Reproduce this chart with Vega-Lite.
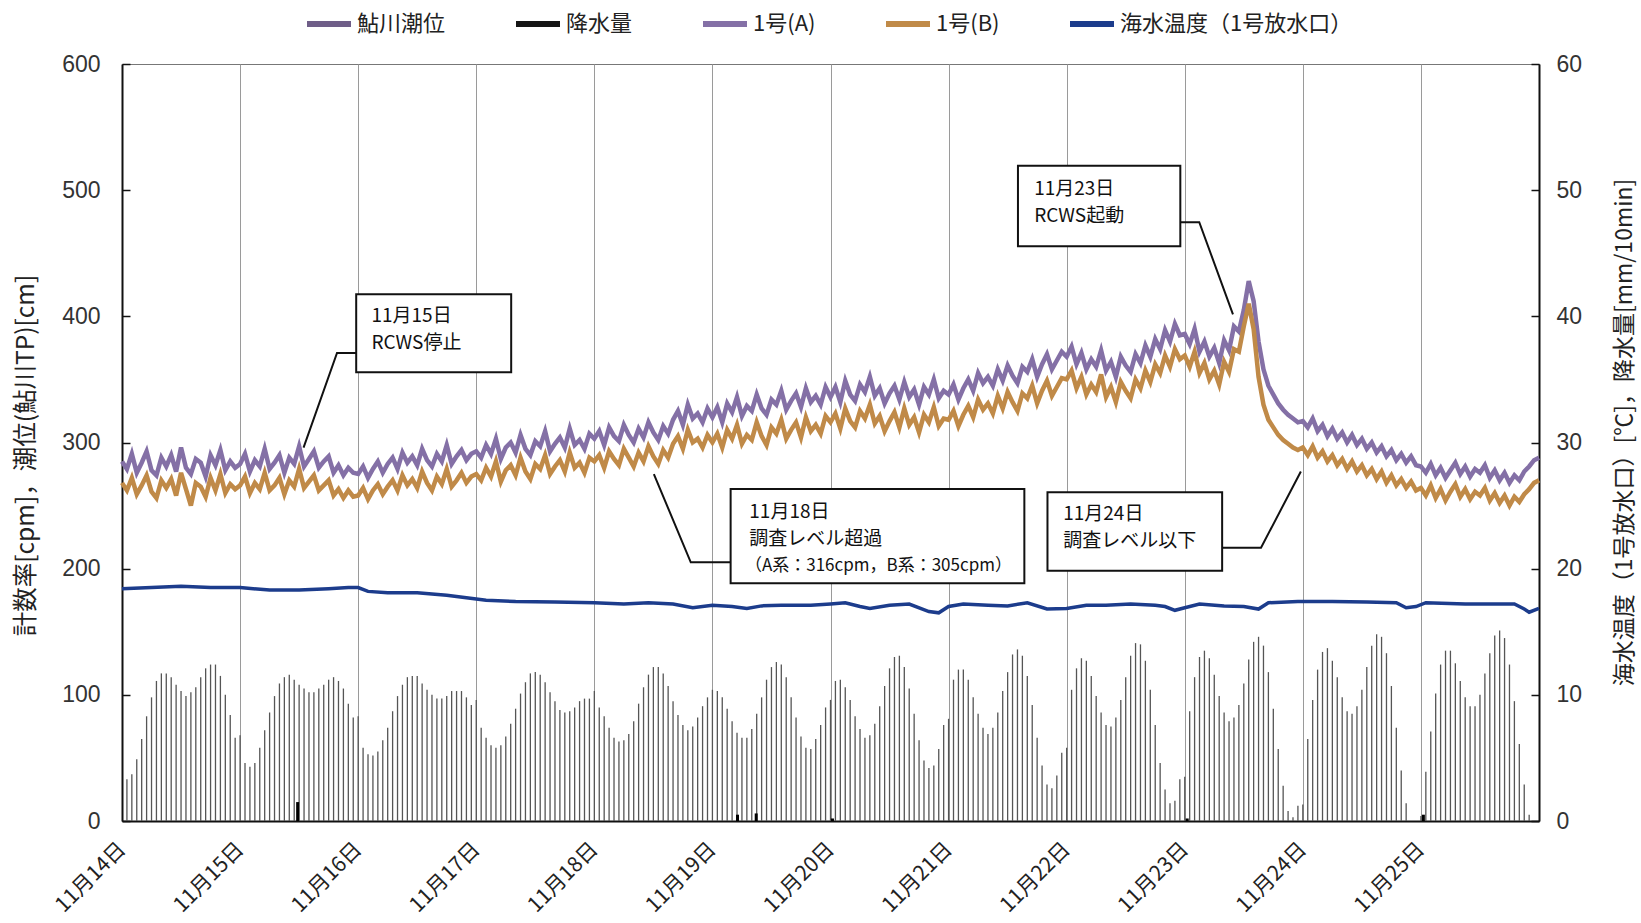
{
  "$schema": "https://vega.github.io/schema/vega-lite/v6.json",
  "width": 1417,
  "height": 757,
  "autosize": {"type": "none"},
  "padding": {"left": 122, "top": 64, "right": 102, "bottom": 102},
  "background": "white",
  "config": {
    "font": "Noto Sans CJK JP",
    "view": {"stroke": "#777", "strokeWidth": 1},
    "axis": {"domainColor": "#111", "domainWidth": 2, "labelColor": "#333", "titleColor": "#222", "titleFontWeight": "normal", "grid": false}
  },
  "datasets": {
    "hourly": [
      {"h":0,"A":285,"B":268},{"h":1,"T":33,"A":279,"B":262},{"h":2,"T":37,"A":291,"B":272},{"h":3,"T":49,"A":276,"B":259},{"h":4,"T":65,"A":284,"B":266},{"h":5,"T":83,"A":293,"B":274},{"h":6,"T":98,"A":278,"B":261},{"h":7,"T":111,"A":274,"B":256},{"h":8,"T":117,"A":288,"B":270},{"h":9,"T":117,"A":281,"B":264},{"h":10,"T":114,"A":290,"B":271},{"h":11,"T":108,"A":277,"B":258},{"h":12,"T":103,"A":296,"B":276},{"h":13,"T":99,"A":280,"B":263},{"h":14,"T":102,"A":275,"B":250},{"h":15,"T":106,"A":287,"B":268},{"h":16,"T":114,"A":284,"B":265},{"h":17,"T":121,"A":273,"B":257},{"h":18,"T":124,"A":290,"B":272},{"h":19,"T":124,"A":282,"B":262},{"h":20,"T":115,"A":294,"B":275},{"h":21,"T":100,"A":278,"B":260},{"h":22,"T":84,"A":285,"B":267},{"h":23,"T":66,"A":280,"B":263},
      {"h":24,"T":68,"A":283,"B":266},{"h":25,"T":46,"A":291,"B":273},{"h":26,"T":43,"A":277,"B":260},{"h":27,"T":46,"A":286,"B":268},{"h":28,"T":58,"A":281,"B":263},{"h":29,"T":72,"A":295,"B":276},{"h":30,"T":86,"A":279,"B":262},{"h":31,"T":99,"A":284,"B":266},{"h":32,"T":109,"A":290,"B":272},{"h":33,"T":114,"A":276,"B":259},{"h":34,"T":116,"A":288,"B":270},{"h":35,"T":112,"A":283,"B":265},{"h":36,"T":108,"A":297,"B":279},{"h":37,"T":105,"A":281,"B":264},{"h":38,"T":102,"A":287,"B":269},{"h":39,"T":102,"A":293,"B":274},{"h":40,"T":105,"A":280,"B":262},{"h":41,"T":108,"A":285,"B":266},{"h":42,"T":112,"A":289,"B":270},{"h":43,"T":114,"A":276,"B":258},{"h":44,"T":111,"A":282,"B":263},{"h":45,"T":105,"A":274,"B":256},{"h":46,"T":93,"A":280,"B":262},{"h":47,"T":82,"A":276,"B":257},
      {"h":48,"T":83,"A":275,"B":258},{"h":49,"T":58,"A":281,"B":264},{"h":50,"T":53,"A":272,"B":255},{"h":51,"T":52,"A":279,"B":262},{"h":52,"T":55,"A":285,"B":267},{"h":53,"T":64,"A":276,"B":259},{"h":54,"T":74,"A":283,"B":265},{"h":55,"T":87,"A":288,"B":270},{"h":56,"T":99,"A":279,"B":262},{"h":57,"T":108,"A":292,"B":274},{"h":58,"T":114,"A":284,"B":266},{"h":59,"T":115,"A":289,"B":271},{"h":60,"T":115,"A":282,"B":264},{"h":61,"T":109,"A":295,"B":277},{"h":62,"T":104,"A":286,"B":268},{"h":63,"T":100,"A":281,"B":262},{"h":64,"T":97,"A":291,"B":273},{"h":65,"T":97,"A":285,"B":267},{"h":66,"T":99,"A":298,"B":279},{"h":67,"T":103,"A":283,"B":265},{"h":68,"T":103,"A":289,"B":270},{"h":69,"T":103,"A":294,"B":276},{"h":70,"T":98,"A":286,"B":268},{"h":71,"T":92,"A":291,"B":273},
      {"h":72,"T":96,"A":293,"B":275},{"h":73,"T":74,"A":288,"B":270},{"h":74,"T":66,"A":298,"B":280},{"h":75,"T":60,"A":291,"B":273},{"h":76,"T":58,"A":303,"B":285},{"h":77,"T":60,"A":287,"B":269},{"h":78,"T":67,"A":296,"B":278},{"h":79,"T":77,"A":300,"B":282},{"h":80,"T":89,"A":292,"B":274},{"h":81,"T":101,"A":306,"B":288},{"h":82,"T":110,"A":295,"B":277},{"h":83,"T":117,"A":290,"B":271},{"h":84,"T":118,"A":301,"B":283},{"h":85,"T":116,"A":297,"B":279},{"h":86,"T":110,"A":309,"B":290},{"h":87,"T":102,"A":293,"B":275},{"h":88,"T":95,"A":299,"B":281},{"h":89,"T":88,"A":304,"B":286},{"h":90,"T":86,"A":296,"B":277},{"h":91,"T":87,"A":311,"B":292},{"h":92,"T":90,"A":298,"B":280},{"h":93,"T":95,"A":302,"B":284},{"h":94,"T":97,"A":295,"B":276},{"h":95,"T":97,"A":307,"B":288},
      {"h":96,"T":103,"A":303,"B":285},{"h":97,"T":90,"A":309,"B":290},{"h":98,"T":83,"A":298,"B":280},{"h":99,"T":74,"A":312,"B":293},{"h":100,"T":66,"A":305,"B":287},{"h":101,"T":63,"A":301,"B":282},{"h":102,"T":64,"A":314,"B":295},{"h":103,"T":69,"A":306,"B":288},{"h":104,"T":79,"A":300,"B":281},{"h":105,"T":93,"A":311,"B":292},{"h":106,"T":106,"A":304,"B":285},{"h":107,"T":116,"A":316,"B":297},{"h":108,"T":122,"A":308,"B":289},{"h":109,"T":122,"A":302,"B":283},{"h":110,"T":117,"A":313,"B":294},{"h":111,"T":107,"A":307,"B":288},{"h":112,"T":95,"A":318,"B":299},{"h":113,"T":84,"A":325,"B":305},{"h":114,"T":76,"A":314,"B":295},{"h":115,"T":72,"A":330,"B":310},{"h":116,"T":75,"A":319,"B":300},{"h":117,"T":82,"A":323,"B":303},{"h":118,"T":91,"A":316,"B":296},{"h":119,"T":98,"A":327,"B":306},
      {"h":120,"T":104,"A":320,"B":300},{"h":121,"T":103,"A":328,"B":307},{"h":122,"T":98,"A":316,"B":296},{"h":123,"T":89,"A":331,"B":310},{"h":124,"T":79,"A":324,"B":303},{"h":125,"T":70,"A":336,"B":314},{"h":126,"T":66,"A":321,"B":299},{"h":127,"T":66,"A":329,"B":306},{"h":128,"T":73,"A":325,"B":302},{"h":129,"T":85,"A":338,"B":316},{"h":130,"T":98,"A":327,"B":305},{"h":131,"T":112,"A":322,"B":298},{"h":132,"T":122,"A":334,"B":312},{"h":133,"T":126,"A":330,"B":307},{"h":134,"T":124,"A":341,"B":318},{"h":135,"T":114,"A":326,"B":303},{"h":136,"T":98,"A":333,"B":310},{"h":137,"T":82,"A":339,"B":316},{"h":138,"T":67,"A":328,"B":304},{"h":139,"T":58,"A":343,"B":320},{"h":140,"T":57,"A":332,"B":309},{"h":141,"T":65,"A":337,"B":314},{"h":142,"T":76,"A":330,"B":307},{"h":143,"T":90,"A":344,"B":321},
      {"h":144,"T":96,"A":336,"B":316},{"h":145,"T":111,"A":344,"B":323},{"h":146,"T":112,"A":332,"B":311},{"h":147,"T":106,"A":349,"B":327},{"h":148,"T":96,"A":338,"B":317},{"h":149,"T":83,"A":333,"B":312},{"h":150,"T":73,"A":346,"B":325},{"h":151,"T":66,"A":340,"B":319},{"h":152,"T":68,"A":352,"B":330},{"h":153,"T":77,"A":337,"B":315},{"h":154,"T":91,"A":343,"B":321},{"h":155,"T":107,"A":331,"B":309},{"h":156,"T":121,"A":339,"B":317},{"h":157,"T":130,"A":345,"B":324},{"h":158,"T":131,"A":334,"B":312},{"h":159,"T":122,"A":348,"B":327},{"h":160,"T":105,"A":336,"B":314},{"h":161,"T":85,"A":342,"B":320},{"h":162,"T":64,"A":330,"B":308},{"h":163,"T":48,"A":344,"B":322},{"h":164,"T":42,"A":338,"B":316},{"h":165,"T":44,"A":350,"B":328},{"h":166,"T":57,"A":335,"B":313},{"h":167,"T":76,"A":341,"B":319},
      {"h":168,"T":81,"A":338,"B":318},{"h":169,"T":112,"A":346,"B":325},{"h":170,"T":120,"A":334,"B":313},{"h":171,"T":120,"A":343,"B":322},{"h":172,"T":112,"A":350,"B":329},{"h":173,"T":98,"A":341,"B":320},{"h":174,"T":85,"A":355,"B":334},{"h":175,"T":74,"A":347,"B":326},{"h":176,"T":69,"A":352,"B":331},{"h":177,"T":74,"A":345,"B":323},{"h":178,"T":86,"A":358,"B":337},{"h":179,"T":103,"A":349,"B":327},{"h":180,"T":118,"A":361,"B":340},{"h":181,"T":132,"A":353,"B":332},{"h":182,"T":136,"A":347,"B":325},{"h":183,"T":131,"A":360,"B":339},{"h":184,"T":115,"A":356,"B":335},{"h":185,"T":92,"A":366,"B":345},{"h":186,"T":66,"A":352,"B":331},{"h":187,"T":44,"A":362,"B":341},{"h":188,"T":29,"A":370,"B":349},{"h":189,"T":26,"A":358,"B":337},{"h":190,"T":36,"A":365,"B":344},{"h":191,"T":54,"A":372,"B":351},
      {"h":192,"T":58,"A":368,"B":350},{"h":193,"T":104,"A":376,"B":357},{"h":194,"T":121,"A":362,"B":343},{"h":195,"T":129,"A":371,"B":352},{"h":196,"T":127,"A":358,"B":338},{"h":197,"T":115,"A":366,"B":346},{"h":198,"T":99,"A":360,"B":340},{"h":199,"T":86,"A":373,"B":354},{"h":200,"T":76,"A":357,"B":336},{"h":201,"T":75,"A":364,"B":344},{"h":202,"T":82,"A":352,"B":332},{"h":203,"T":96,"A":368,"B":348},{"h":204,"T":114,"A":361,"B":341},{"h":205,"T":131,"A":356,"B":335},{"h":206,"T":141,"A":370,"B":350},{"h":207,"T":140,"A":363,"B":343},{"h":208,"T":127,"A":377,"B":357},{"h":209,"T":104,"A":368,"B":348},{"h":210,"T":76,"A":382,"B":362},{"h":211,"T":46,"A":374,"B":355},{"h":212,"T":25,"A":389,"B":369},{"h":213,"T":14,"A":380,"B":360},{"h":214,"T":16,"A":394,"B":374},{"h":215,"T":33,"A":385,"B":366},
      {"h":216,"T":35,"A":386,"B":369},{"h":217,"T":87,"A":378,"B":360},{"h":218,"T":114,"A":390,"B":372},{"h":219,"T":130,"A":372,"B":355},{"h":220,"T":135,"A":380,"B":363},{"h":221,"T":129,"A":368,"B":350},{"h":222,"T":116,"A":375,"B":357},{"h":223,"T":99,"A":363,"B":346},{"h":224,"T":86,"A":381,"B":364},{"h":225,"T":79,"A":373,"B":356},{"h":226,"T":82,"A":392,"B":374},{"h":227,"T":92,"A":388,"B":372},{"h":228,"T":109,"A":405,"B":392},{"h":229,"T":128,"A":428,"B":410},{"h":230,"T":142,"A":412,"B":390},{"h":231,"T":146,"A":380,"B":352},{"h":232,"T":139,"A":358,"B":330},{"h":233,"T":118,"A":345,"B":318},{"h":234,"T":89,"A":338,"B":312},{"h":235,"T":57,"A":331,"B":306},{"h":236,"T":28,"A":326,"B":302},{"h":237,"T":8,"A":322,"B":299},{"h":238,"T":3,"A":319,"B":296},{"h":239,"T":12,"A":316,"B":294},
      {"h":240,"T":13,"A":317,"B":296},{"h":241,"T":65,"A":312,"B":290},{"h":242,"T":96,"A":319,"B":297},{"h":243,"T":120,"A":309,"B":288},{"h":244,"T":134,"A":314,"B":293},{"h":245,"T":137,"A":305,"B":285},{"h":246,"T":127,"A":311,"B":290},{"h":247,"T":114,"A":303,"B":282},{"h":248,"T":98,"A":308,"B":287},{"h":249,"T":87,"A":300,"B":279},{"h":250,"T":85,"A":306,"B":285},{"h":251,"T":91,"A":298,"B":277},{"h":252,"T":104,"A":303,"B":282},{"h":253,"T":122,"A":295,"B":274},{"h":254,"T":139,"A":300,"B":279},{"h":255,"T":148,"A":292,"B":271},{"h":256,"T":146,"A":297,"B":277},{"h":257,"T":133,"A":289,"B":268},{"h":258,"T":107,"A":294,"B":274},{"h":259,"T":74,"A":286,"B":266},{"h":260,"T":40,"A":291,"B":271},{"h":261,"T":14,"A":284,"B":264},{"h":262,"A":289,"B":269},{"h":263,"A":282,"B":262},
      {"h":264,"T":4,"A":281,"B":264},{"h":265,"T":39,"A":276,"B":258},{"h":266,"T":71,"A":283,"B":266},{"h":267,"T":101,"A":274,"B":256},{"h":268,"T":124,"A":280,"B":263},{"h":269,"T":135,"A":272,"B":254},{"h":270,"T":135,"A":278,"B":261},{"h":271,"T":125,"A":284,"B":267},{"h":272,"T":111,"A":275,"B":257},{"h":273,"T":98,"A":281,"B":263},{"h":274,"T":91,"A":273,"B":255},{"h":275,"T":91,"A":279,"B":261},{"h":276,"T":100,"A":276,"B":258},{"h":277,"T":117,"A":282,"B":264},{"h":278,"T":133,"A":272,"B":254},{"h":279,"T":147,"A":278,"B":260},{"h":280,"T":151,"A":270,"B":252},{"h":281,"T":145,"A":276,"B":258},{"h":282,"T":124,"A":268,"B":250},{"h":283,"T":95,"A":274,"B":257},{"h":284,"T":61,"A":270,"B":253},{"h":285,"T":29,"A":277,"B":259},{"h":286,"T":5,"A":281,"B":263},{"h":287,"A":286,"B":268},{"h":288,"A":288,"B":270}
    ],
    "temp": [
      {"h":0,"C":18.4},{"h":6,"C":18.5},{"h":12,"C":18.6},{"h":18,"C":18.5},{"h":24,"C":18.5},{"h":30,"C":18.3},{"h":36,"C":18.3},{"h":42,"C":18.4},{"h":46,"C":18.5},{"h":48,"C":18.5},{"h":50,"C":18.2},{"h":54,"C":18.1},{"h":60,"C":18.1},{"h":66,"C":17.9},{"h":70,"C":17.7},{"h":74,"C":17.5},{"h":80,"C":17.4},{"h":88,"C":17.35},{"h":96,"C":17.3},{"h":102,"C":17.2},{"h":107,"C":17.3},{"h":112,"C":17.2},{"h":116,"C":16.9},{"h":120,"C":17.1},{"h":124,"C":17.0},{"h":127,"C":16.85},{"h":130,"C":17.05},{"h":134,"C":17.1},{"h":140,"C":17.1},{"h":144,"C":17.2},{"h":147,"C":17.3},{"h":150,"C":17.0},{"h":152,"C":16.85},{"h":156,"C":17.1},{"h":160,"C":17.2},{"h":164,"C":16.6},{"h":166,"C":16.5},{"h":168,"C":17.0},{"h":171,"C":17.2},{"h":176,"C":17.1},{"h":180,"C":17.05},{"h":184,"C":17.3},{"h":188,"C":16.8},{"h":192,"C":16.85},{"h":196,"C":17.1},{"h":200,"C":17.1},{"h":205,"C":17.2},{"h":210,"C":17.1},{"h":212,"C":17.0},{"h":214,"C":16.7},{"h":216,"C":16.9},{"h":219,"C":17.2},{"h":224,"C":17.05},{"h":228,"C":17.0},{"h":231,"C":16.8},{"h":233,"C":17.3},{"h":239,"C":17.4},{"h":246,"C":17.4},{"h":253,"C":17.35},{"h":259,"C":17.3},{"h":261,"C":16.9},{"h":263,"C":17.0},{"h":265,"C":17.3},{"h":273,"C":17.2},{"h":283,"C":17.2},{"h":285,"C":16.8},{"h":286,"C":16.55},{"h":288,"C":16.85}
    ],
    "rain": [
      {"h":35.7,"R":1.5},{"h":125.1,"R":0.5},{"h":128.9,"R":0.6},{"h":144.4,"R":0.2},{"h":216.5,"R":0.2},{"h":264.5,"R":0.5}
    ],
    "boxes": [
      {"x1":47.6,"x2":79.1,"y1":355.7,"y2":417.5},
      {"x1":182.1,"x2":215.1,"y1":455.5,"y2":519.4},
      {"x1":123.7,"x2":183.4,"y1":188.4,"y2":263.1},
      {"x1":188.1,"x2":223.6,"y1":198.4,"y2":260.5}
    ],
    "notes": [
      {"h":50.7,"v":400,"t":"11月15日"},{"h":50.7,"v":378.5,"t":"RCWS停止"},
      {"h":185.4,"v":501,"t":"11月23日"},{"h":185.4,"v":479.5,"t":"RCWS起動"},
      {"h":127.5,"v":245,"t":"11月18日"},{"h":127.5,"v":223.3,"t":"調査レベル超過"},
      {"h":191.3,"v":243,"t":"11月24日"},{"h":191.3,"v":221.7,"t":"調査レベル以下"}
    ],
    "notesSmall": [
      {"h":126.6,"v":202,"t":"（A系：316cpm，B系：305cpm）"}
    ],
    "leaders": [
      {"g":1,"o":0,"h":47.6,"v":371},{"g":1,"o":1,"h":43.7,"v":371},{"g":1,"o":2,"h":36.9,"v":296},
      {"g":2,"o":0,"h":215.1,"v":474.6},{"g":2,"o":1,"h":218.95,"v":474.6},{"g":2,"o":2,"h":225.8,"v":401.6},
      {"g":3,"o":0,"h":123.7,"v":205},{"g":3,"o":1,"h":115.6,"v":205},{"g":3,"o":2,"h":108.1,"v":275},
      {"g":4,"o":0,"h":223.6,"v":216.6},{"g":4,"o":1,"h":231.5,"v":216.6},{"g":4,"o":2,"h":239.6,"v":277}
    ]
  },
  "layer": [
    {
      "layer": [
        {
          "data": {"name": "hourly"},
          "transform": [{"filter": "isValid(datum.T)"}],
          "mark": {"type": "rule", "color": "#555555", "strokeWidth": 1.3},
          "encoding": {
            "x": {"field": "h", "type": "quantitative",
              "scale": {"domain": [0, 288], "nice": false, "zero": false},
              "axis": {"values": [0,24,48,72,96,120,144,168,192,216,240,264],
                "labelExpr": "'11月' + (14 + datum.value / 24) + '日'",
                "labelAngle": -45, "labelAlign": "right", "labelBaseline": "middle",
                "labelFontSize": 21, "labelPadding": 25, "labelColor": "#222",
                "ticks": false, "grid": true, "gridColor": "#9a9a9a", "gridWidth": 1,
                "title": null}},
            "y": {"field": "T", "type": "quantitative",
              "scale": {"domain": [0, 600], "nice": false},
              "axis": {"values": [0,100,200,300,400,500,600],
                "labelFont": "Liberation Sans", "labelFontSize": 23, "labelColor": "#333",
                "tickSize": -8, "tickColor": "#111", "tickWidth": 1.5, "labelPadding": 30,
                "title": "計数率[cpm]，潮位(鮎川TP)[cm]", "titleFontSize": 24.5,
                "titleX": -96, "titleY": 391, "titleAngle": -90, "titleAlign": "center", "titleBaseline": "middle"}},
            "y2": {"datum": 0}
          }
        },
        {
          "data": {"name": "hourly"},
          "mark": {"type": "line", "strokeWidth": 4.5},
          "encoding": {
            "x": {"field": "h", "type": "quantitative"},
            "y": {"field": "A", "type": "quantitative"},
            "color": {"datum": "1号(A)", "type": "nominal",
              "scale": {"domain": ["鮎川潮位", "降水量", "1号(A)", "1号(B)", "海水温度（1号放水口）"],
                "range": ["#6f5e88", "#151515", "#8470a6", "#c08a48", "#1c3c8c"]},
              "legend": {"orient": "none", "legendX": 182, "legendY": -65, "direction": "horizontal",
                "title": null, "symbolType": "stroke", "symbolSize": 1936, "symbolStrokeWidth": 6,
                "labelFontSize": 22, "labelFont": "Noto Sans CJK JP", "labelColor": "#222",
                "labelOffset": 3, "columnPadding": 58, "padding": 0, "labelLimit": 400}}
          }
        },
        {
          "data": {"name": "hourly"},
          "mark": {"type": "line", "strokeWidth": 4.5},
          "encoding": {
            "x": {"field": "h", "type": "quantitative"},
            "y": {"field": "B", "type": "quantitative"},
            "color": {"datum": "1号(B)", "type": "nominal"}
          }
        },
        {
          "data": {"name": "leaders"},
          "mark": {"type": "line", "color": "#111", "strokeWidth": 2},
          "encoding": {
            "x": {"field": "h", "type": "quantitative"},
            "y": {"field": "v", "type": "quantitative"},
            "detail": {"field": "g"},
            "order": {"field": "o"}
          }
        },
        {
          "data": {"name": "boxes"},
          "mark": {"type": "rect", "fill": "white", "stroke": "#111", "strokeWidth": 2},
          "encoding": {
            "x": {"field": "x1", "type": "quantitative"},
            "x2": {"field": "x2"},
            "y": {"field": "y1", "type": "quantitative"},
            "y2": {"field": "y2"}
          }
        },
        {
          "data": {"name": "notes"},
          "mark": {"type": "text", "align": "left", "baseline": "middle", "fontSize": 19, "font": "Noto Sans CJK JP", "color": "#111"},
          "encoding": {
            "x": {"field": "h", "type": "quantitative"},
            "y": {"field": "v", "type": "quantitative"},
            "text": {"field": "t"}
          }
        },
        {
          "data": {"name": "notesSmall"},
          "mark": {"type": "text", "align": "left", "baseline": "middle", "fontSize": 17, "font": "Noto Sans CJK JP", "color": "#111"},
          "encoding": {
            "x": {"field": "h", "type": "quantitative"},
            "y": {"field": "v", "type": "quantitative"},
            "text": {"field": "t"}
          }
        }
      ]
    },
    {
      "layer": [
        {
          "data": {"name": "rain"},
          "mark": {"type": "rule", "color": "#000", "strokeWidth": 3},
          "encoding": {
            "x": {"field": "h", "type": "quantitative"},
            "y": {"field": "R", "type": "quantitative", "scale": {"domain": [0, 60], "nice": false}},
            "y2": {"datum": 0}
          }
        },
        {
          "data": {"name": "temp"},
          "mark": {"type": "line", "strokeWidth": 3.5},
          "encoding": {
            "x": {"field": "h", "type": "quantitative"},
            "y": {"field": "C", "type": "quantitative",
              "axis": {"orient": "right", "values": [0,10,20,30,40,50,60],
                "labelFont": "Liberation Sans", "labelFontSize": 23, "labelColor": "#333",
                "tickSize": -8, "tickColor": "#111", "tickWidth": 1.5, "labelPadding": 25,
                "title": "海水温度（1号放水口）[℃]，降水量[mm/10min]", "titleFontSize": 23,
                "titleX": 85, "titleY": 368, "titleAngle": -90, "titleAlign": "center", "titleBaseline": "middle"}},
            "color": {"datum": "海水温度（1号放水口）", "type": "nominal"}
          }
        }
      ]
    }
  ],
  "resolve": {"scale": {"y": "independent"}, "axis": {"y": "independent"}}
}
